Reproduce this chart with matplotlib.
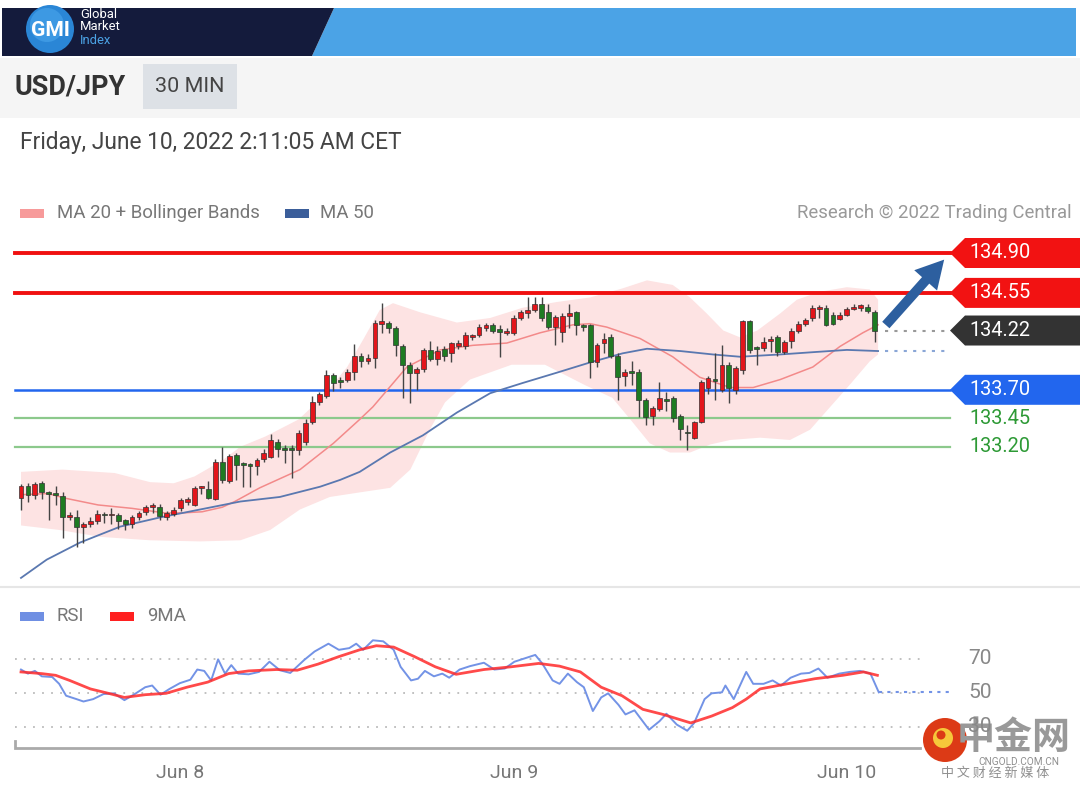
import numpy as np
import matplotlib
matplotlib.use('Agg')
import matplotlib.pyplot as plt
from matplotlib.patches import Polygon, Circle, Rectangle

plt.rcParams['font.family'] = ['Roboto', 'DejaVu Sans']

# ---- data (USD/JPY, 30 min bars) ----
opens = [132.75, 132.86, 132.78, 132.88, 132.80, 132.79, 132.77, 132.58, 132.58, 132.50,
         132.52, 132.55, 132.61, 132.60, 132.60, 132.56, 132.52, 132.58, 132.63, 132.67,
         132.67, 132.58, 132.61, 132.66, 132.72, 132.69, 132.84, 132.83, 132.74, 133.07,
         132.90, 133.13, 133.06, 133.05, 133.03, 133.09, 133.11, 133.24, 133.19, 133.19,
         133.17, 133.24, 133.42, 133.59, 133.65, 133.83, 133.78, 133.79, 133.86, 134.00,
         133.95, 133.98, 134.28, 134.29, 134.24, 134.08, 133.92, 133.85, 133.88, 134.05,
         133.97, 134.06, 134.02, 134.08, 134.08, 134.16, 134.18, 134.24, 134.27, 134.23,
         134.20, 134.20, 134.33, 134.37, 134.40, 134.45, 134.38, 134.25, 134.21, 134.35,
         134.38, 134.27, 134.27, 133.94, 134.11, 134.16, 134.00, 133.82, 133.86, 133.86,
         133.61, 133.47, 133.53, 133.62, 133.63, 133.47, 133.33, 133.28, 133.42, 133.72,
         133.79, 133.70, 133.92, 133.70, 133.87, 134.30, 134.07, 134.07, 134.13, 134.16,
         134.03, 134.13, 134.22, 134.28, 134.33, 134.41, 134.42, 134.36, 134.32, 134.36,
         134.41, 134.42, 134.43, 134.38]
highs = [132.87, 132.88, 132.89, 132.90, 132.81, 132.86, 132.80, 132.63, 132.65, 132.54,
         132.58, 132.65, 132.63, 132.66, 132.62, 132.57, 132.60, 132.64, 132.69, 132.71,
         132.70, 132.64, 132.67, 132.75, 132.76, 132.86, 132.86, 132.90, 133.09, 133.20,
         133.14, 133.15, 133.07, 133.06, 133.10, 133.18, 133.31, 133.27, 133.22, 133.22,
         133.35, 133.44, 133.65, 133.68, 133.87, 133.85, 133.81, 133.88, 134.10, 134.02,
         134.01, 134.31, 134.46, 134.30, 134.26, 134.10, 133.94, 133.90, 134.07, 134.13,
         134.08, 134.08, 134.12, 134.14, 134.21, 134.19, 134.28, 134.29, 134.29, 134.27,
         134.24, 134.36, 134.40, 134.51, 134.51, 134.51, 134.45, 134.36, 134.37, 134.45,
         134.39, 134.28, 134.28, 134.11, 134.20, 134.19, 134.02, 133.88, 133.95, 133.88,
         133.63, 133.56, 133.77, 133.68, 133.65, 133.49, 133.39, 133.43, 133.79, 133.82,
         134.02, 134.09, 133.94, 133.91, 134.31, 134.31, 134.08, 134.16, 134.17, 134.18,
         134.14, 134.24, 134.30, 134.33, 134.44, 134.44, 134.44, 134.38, 134.38, 134.43,
         134.45, 134.45, 134.45, 134.40]
lows = [132.65, 132.72, 132.74, 132.74, 132.56, 132.69, 132.40, 132.56, 132.32, 132.36,
        132.50, 132.52, 132.53, 132.52, 132.48, 132.47, 132.49, 132.56, 132.60, 132.62,
        132.56, 132.56, 132.59, 132.64, 132.69, 132.68, 132.79, 132.74, 132.73, 132.88,
        132.88, 132.91, 132.85, 132.85, 132.95, 133.07, 133.10, 133.11, 133.06, 132.93,
        133.13, 133.22, 133.40, 133.57, 133.63, 133.69, 133.72, 133.77, 133.79, 133.90,
        133.93, 133.89, 134.20, 134.20, 134.00, 133.63, 133.58, 133.70, 133.86, 133.95,
        133.92, 133.95, 133.94, 134.06, 134.06, 134.14, 134.16, 134.22, 134.20, 133.99,
        134.18, 134.18, 134.31, 134.33, 134.38, 134.30, 134.23, 134.09, 134.12, 134.24,
        134.18, 134.22, 133.80, 133.90, 134.02, 133.98, 133.61, 133.73, 133.74, 133.46,
        133.39, 133.39, 133.51, 133.51, 133.42, 133.26, 133.17, 133.27, 133.41, 133.66,
        133.61, 133.68, 133.58, 133.66, 133.84, 134.02, 133.92, 134.04, 134.03, 134.00,
        134.01, 134.07, 134.20, 134.26, 134.30, 134.33, 134.26, 134.27, 134.31, 134.35,
        134.40, 134.39, 134.37, 134.12]
closes = [132.86, 132.78, 132.87, 132.80, 132.79, 132.78, 132.58, 132.60, 132.50, 132.52,
          132.55, 132.61, 132.60, 132.61, 132.55, 132.52, 132.58, 132.62, 132.67, 132.69,
          132.59, 132.62, 132.65, 132.73, 132.74, 132.84, 132.85, 132.75, 133.07, 132.91,
          133.12, 133.04, 133.04, 133.03, 133.08, 133.15, 133.26, 133.18, 133.17, 133.17,
          133.32, 133.41, 133.59, 133.66, 133.83, 133.76, 133.77, 133.86, 134.00, 133.95,
          133.98, 134.29, 134.30, 134.24, 134.09, 133.92, 133.85, 133.88, 134.05, 133.97,
          134.04, 134.00, 134.11, 134.11, 134.18, 134.18, 134.25, 134.27, 134.22, 134.21,
          134.22, 134.33, 134.38, 134.40, 134.45, 134.33, 134.25, 134.34, 134.35, 134.37,
          134.27, 134.25, 133.94, 134.09, 134.15, 134.00, 133.81, 133.86, 133.85, 133.61,
          133.46, 133.54, 133.63, 133.60, 133.45, 133.36, 133.32, 133.42, 133.77, 133.80,
          133.78, 133.92, 133.72, 133.89, 134.30, 134.05, 134.06, 134.12, 134.15, 134.03,
          134.12, 134.22, 134.28, 134.31, 134.42, 134.42, 134.27, 134.28, 134.36, 134.41,
          134.43, 134.44, 134.39, 134.22]

# bollinger band edges and moving averages (bar index, price)
bb_up_x = [0, 6, 13.5, 18.6, 22, 25, 29, 31.6, 35.2, 40, 43.5, 47, 49.3, 51.7, 53.6, 57.5,
           62.8, 67.6, 72.3, 77.2, 82, 86.7, 90.2, 93.9, 96.4, 98.8, 101.2, 103.6, 106.1,
           109.4, 111.8, 115.1, 119, 122.3, 123.5]
bb_up = [132.98, 133.00, 132.97, 132.89, 132.88, 132.94, 133.08, 133.20, 133.29, 133.44,
         133.64, 133.90, 134.14, 134.40, 134.46, 134.38, 134.29, 134.33, 134.42, 134.47,
         134.51, 134.59, 134.66, 134.62, 134.51, 134.37, 134.22, 134.16, 134.22, 134.37,
         134.49, 134.56, 134.60, 134.58, 134.49]
bb_lo_x = [0, 5.6, 11.4, 18.6, 25.8, 31.6, 35.9, 40.2, 44.5, 48.8, 53.2, 56.1, 58.9, 61.1,
           64.7, 70.7, 75.5, 81.3, 85.2, 87.8, 90.6, 93.5, 96.4, 99.3, 102.2, 106.5, 110.8,
           113.7, 116.6, 119.5, 122.3, 123.5]
bb_lo = [132.51, 132.47, 132.41, 132.38, 132.37, 132.38, 132.47, 132.65, 132.76, 132.80,
         132.84, 133.00, 133.35, 133.59, 133.79, 133.92, 133.92, 133.74, 133.63, 133.44,
         133.23, 133.15, 133.15, 133.22, 133.26, 133.28, 133.26, 133.35, 133.55, 133.75,
         133.95, 134.01]
ma20_x = [0, 3.9, 6.3, 11.1, 16, 20.7, 23.2, 26.1, 29, 30.8, 34.4, 40.2, 45, 48.8, 50.7,
          55.6, 60.4, 65.1, 70, 74.8, 79.5, 82, 84.4, 89.2, 93.9, 97.8, 102.2, 105.5, 109.4,
          114.1, 118, 121.3, 123.5]
ma20 = [132.78, 132.79, 132.75, 132.69, 132.66, 132.62, 132.62, 132.63, 132.67, 132.72,
        132.84, 133.00, 133.23, 133.44, 133.55, 133.90, 134.05, 134.09, 134.11, 134.20,
        134.27, 134.28, 134.25, 134.15, 133.99, 133.81, 133.72, 133.72, 133.79, 133.90,
        134.08, 134.20, 134.27]
ma50_x = [0, 3.7, 8.5, 14.3, 20, 25.8, 31.6, 37.3, 43.1, 46, 48.8, 53.2, 57.9, 62.8, 67.6,
          72.3, 77.2, 82, 86.7, 90.2, 95, 99.7, 103.6, 109.4, 114.1, 119, 123.5]
ma50 = [132.05, 132.21, 132.36, 132.50, 132.58, 132.65, 132.72, 132.76, 132.85, 132.91,
        132.98, 133.15, 133.30, 133.50, 133.67, 133.76, 133.85, 133.94, 134.02, 134.06,
        134.04, 134.01, 133.99, 134.01, 134.03, 134.05, 134.04]

levels_red = [134.90, 134.55]
level_last = 134.22
level_blue = 133.70
levels_green = [133.45, 133.20]

rsi_x = [0, 1.0, 2.0, 3.0, 4.5, 5.5, 6.5, 8.0, 9.0, 10.4, 11.9, 13.4, 14.9, 16.4, 17.9, 18.9,
         20.1, 21.4, 22.9, 24.4, 25.4, 26.4, 27.4, 28.4, 29.4, 30.3, 31.3, 32.8, 34.3, 35.8,
         37.3, 38.8, 40.8, 42.3, 44.3, 45.8, 47.3, 48.3, 49.3, 50.7, 52.2, 53.7, 54.7, 56.2,
         57.2, 58.2, 59.5, 60.7, 61.7, 63.2, 64.7, 66.7, 68.2, 69.7, 71.1, 72.6, 74.1, 75.1,
         76.6, 77.6, 78.8, 80.1, 81.1, 82.4, 83.6, 84.6, 86.1, 87.1, 88.4, 90.5, 92.0, 93.0,
         94.5, 96.0, 97.0, 98.5, 99.5, 101.0, 101.5, 102.7, 104.5, 105.5, 107.0, 108.3,
         109.5, 110.9, 112.4, 113.6, 114.9, 116.2, 117.9, 119.4, 120.9, 122.4, 123.6]
rsi = [63.8, 61.4, 63.0, 59.8, 59.4, 55.4, 48.4, 46.4, 45.0, 46.4, 49.4, 49.8, 45.8, 49.4,
       53.4, 54.4, 49.0, 52.4, 55.8, 57.8, 63.8, 63.0, 57.4, 69.8, 61.4, 66.4, 61.4, 61.0,
       62.4, 68.4, 63.4, 61.8, 69.4, 74.4, 79.0, 75.4, 76.4, 79.0, 75.4, 81.0, 80.4, 75.4,
       65.4, 57.4, 58.4, 63.0, 59.8, 61.4, 59.0, 63.8, 65.8, 67.8, 63.8, 64.4, 68.4, 70.4,
       72.4, 67.4, 57.4, 55.4, 61.4, 56.4, 53.4, 39.4, 47.4, 49.8, 43.0, 37.4, 39.8, 28.4,
       33.4, 37.8, 31.4, 27.8, 32.4, 46.4, 49.8, 50.4, 54.4, 46.4, 62.4, 55.4, 55.4, 57.4,
       54.4, 59.0, 61.4, 61.8, 64.4, 59.0, 61.4, 62.4, 63.0, 61.4, 50.4]
rsi_ma_x = [0, 3.0, 5.0, 7.0, 10.0, 13.0, 14.9, 17.9, 20.9, 23.9, 26.9, 29.9, 32.8, 36.8,
            39.8, 42.8, 45.8, 48.8, 51.2, 53.7, 56.7, 59.7, 62.7, 66.7, 70.6, 74.6, 77.6,
            80.6, 83.6, 86.6, 89.6, 92.5, 96.5, 99.5, 102.5, 104.5, 106.5, 110.4, 114.4,
            118.4, 121.4, 123.4]
rsi_ma = [62.4, 61.4, 60.4, 57.4, 52.4, 49.4, 47.4, 49.0, 49.8, 53.4, 56.4, 61.4, 63.0,
          63.8, 63.4, 67.0, 71.4, 75.4, 77.8, 77.0, 71.4, 65.4, 61.0, 63.8, 65.4, 67.4,
          65.8, 62.4, 53.4, 48.4, 40.4, 37.4, 32.4, 36.4, 41.4, 46.4, 52.4, 55.4, 58.4,
          60.4, 62.4, 60.4]
rsi_levels = [70, 50, 30]

date_ticks = [23, 71, 119]
date_labels = ['Jun 8', 'Jun 9', 'Jun 10']

# ---- layout helpers (pixel based) ----
W, H = 1080, 791
X0, STEP = 21, 6.94


def xi(px):
    return (px - X0) / STEP


def fs(px):
    return px * 0.72


fig = plt.figure(figsize=(W / 100, H / 100), dpi=100)
bg = fig.add_axes([0, 0, 1, 1])
bg.set_xlim(0, W)
bg.set_ylim(H, 0)
bg.axis('off')

# header banner
bg.add_patch(Polygon([(312, 56), (334, 8), (1076, 8), (1076, 56)], closed=True, color='#4ba3e6', lw=0))
bg.add_patch(Polygon([(2, 8), (334, 8), (312, 56), (2, 56)], closed=True, color='#141b3c', lw=0))
bg.add_patch(Circle((50, 29), 24, color='#2a86d6', lw=0))
bg.add_patch(Circle((47, 25), 17, color='#4aa6ec', lw=0, alpha=0.6))
bg.text(50, 30, 'GMI', color='white', fontsize=fs(21), fontweight='bold', ha='center', va='center')
bg.text(80, 14, 'Global', color='white', fontsize=fs(13), va='center')
bg.text(80, 27, 'Market', color='white', fontsize=fs(13), va='center')
bg.text(80, 41, 'Index', color='#4ba3e6', fontsize=fs(13), va='center')

# title band
bg.add_patch(Rectangle((0, 58), W, 60, color='#f5f5f5', lw=0))
bg.add_patch(Rectangle((143, 64), 94, 45, color='#dde1e6', lw=0))
bg.text(15, 87, 'USD/JPY', color='#333333', fontsize=fs(27), fontweight='bold', va='center')
bg.text(190, 87, '30 MIN', color='#444444', fontsize=fs(21.5), ha='center', va='center')
bg.text(20, 143, 'Friday, June 10, 2022 2:11:05 AM CET', color='#444444', fontsize=fs(22.8), va='center')

# legend row
bg.add_patch(Rectangle((20, 209), 24, 9, color='#f79a9a', lw=0))
bg.text(57, 213, 'MA 20 + Bollinger Bands', color='#777777', fontsize=fs(18.7), va='center')
bg.add_patch(Rectangle((285, 209), 24, 9, color='#3b5e9a', lw=0))
bg.text(320, 213, 'MA 50', color='#777777', fontsize=fs(18.7), va='center')
bg.text(1072, 213, 'Research \u00a9 2022 Trading Central', color='#999999', fontsize=fs(18.7),
        ha='right', va='center')

bg.plot([0, W], [587, 587], color='#e6e6e6', lw=1.5)

# RSI legend
bg.add_patch(Rectangle((20, 612), 24, 9, color='#6f8fe3', lw=0))
bg.text(57, 616, 'RSI', color='#777777', fontsize=fs(18.7), va='center')
bg.add_patch(Rectangle((110, 612), 24, 9, color='#ff2020', lw=0))
bg.text(147, 616, '9MA', color='#777777', fontsize=fs(18.7), va='center')

# bottom axis line
bg.plot([15, 15, 920], [741, 748, 748], color='#aaaaaa', lw=2, solid_joinstyle='miter')

# ---- price panel ----
ax = fig.add_axes([0, (H - 585) / H, 1, 355 / H])
ax.set_facecolor('none')
ax.set_xlim(xi(0), xi(W))
ax.set_ylim(134.90 - (585 - 253) / 114, 134.90 + (253 - 230) / 114)
ax.axis('off')

band_x = bb_up_x + bb_lo_x[::-1]
band_y = bb_up + bb_lo[::-1]
ax.fill(band_x, band_y, color='#fde3e3', lw=0, zorder=1)

for lv in levels_red:
    ax.axhline(lv, xmin=15 / W, xmax=950 / W, color='#f01010', lw=2.8, zorder=2)
ax.axhline(level_blue, xmin=15 / W, xmax=950 / W, color='#2266ee', lw=1.8, zorder=2)
for lv in levels_green:
    ax.axhline(lv, xmin=15 / W, xmax=950 / W, color='#8cc98c', lw=1.6, zorder=2)

ax.plot(ma20_x, ma20, color='#f38a8a', lw=1.1, zorder=3)
ax.plot(ma50_x, ma50, color='#5a78b0', lw=1.3, zorder=3)
ax.hlines(ma50[-1], xi(885), xi(950), color='#8aa6d6', lw=1.5, linestyles=(0, (1.5, 3)), zorder=3)
ax.hlines(level_last, xi(885), xi(950), color='#999999', lw=1.5, linestyles=(0, (1.5, 3)), zorder=3)

idx = np.arange(len(closes))
o = np.array(opens)
c = np.array(closes)
up = c >= o
ax.vlines(idx, lows, highs, color='#444444', lw=1, zorder=4)
body_lo = np.minimum(o, c)
body_h = np.maximum(np.abs(c - o), 0.012)
ax.bar(idx, body_h, bottom=body_lo, width=0.7, color=np.where(up, '#e3151b', '#1e7b22'),
       edgecolor='#333333', lw=0.5, zorder=5)

ax.annotate('', xy=(xi(946), 134.86), xytext=(xi(884), 134.25),
            arrowprops=dict(arrowstyle='simple,head_width=1.1,head_length=1.0,tail_width=0.35',
                            mutation_scale=20, color='#2d5f9f', lw=0), zorder=6)

tr = ax.get_yaxis_transform()
hh = 15 / 114


def tag(p, txt, col):
    pts = [(950 / W, p), (965 / W, p + hh), (1.0, p + hh), (1.0, p - hh), (965 / W, p - hh)]
    ax.add_patch(Polygon(pts, closed=True, transform=tr, color=col, lw=0, zorder=6, clip_on=False))
    ax.text(969 / W, p, txt, transform=tr, color='white', fontsize=fs(20), va='center', zorder=7)


for lv in levels_red:
    tag(lv, f'{lv:.2f}', '#f21212')
tag(level_last, f'{level_last:.2f}', '#333333')
tag(level_blue, f'{level_blue:.2f}', '#2266ee')
for lv in levels_green:
    ax.text(969 / W, lv, f'{lv:.2f}', transform=tr, color='#2e9a36', fontsize=fs(20), va='center')

# ---- RSI panel ----
rax = fig.add_axes([0, (H - 748) / H, 1, 118 / H])
rax.set_facecolor('none')
rax.set_xlim(xi(0), xi(W))
rax.set_ylim(70 - 89 / 1.7, 70 + 29 / 1.7)
rax.axis('off')
rax.hlines(rsi_levels, xi(15), xi(925), color='#bbbbbb', lw=1.3, linestyles=(0, (1, 4)))
rtr = rax.get_yaxis_transform()
for lv in rsi_levels:
    rax.text(968 / W, lv, str(lv), transform=rtr, color='#888888', fontsize=fs(21), va='center')
rax.plot(rsi_x, rsi, color='#7393e6', lw=1.4, zorder=3)
rax.plot(rsi_ma_x, rsi_ma, color='#ff2a2a', lw=2, alpha=0.85, zorder=4)
rax.hlines(rsi[-1], rsi_x[-1], xi(952), color='#7393e6', lw=1.5, linestyles=(0, (1.5, 2.5)))
xtr = rax.get_xaxis_transform()
for t, lab in zip(date_ticks, date_labels):
    rax.text(t, -25 / 118, lab, transform=xtr, color='#777777', fontsize=fs(19.5), ha='center', va='center')

# ---- watermark ----
bg.add_patch(Circle((945, 740), 22, color='#dc3a16', lw=0, zorder=8))
bg.add_patch(Circle((943, 738), 10, color='#f6c83a', lw=0, zorder=9))
bg.add_patch(Circle((941, 735), 4.5, color='#dc3a16', lw=0, zorder=10))
bg.text(1014, 738, '中金网', family=['Noto Sans CJK SC', 'DejaVu Sans'], color='#999999',
        fontsize=fs(38), fontweight='bold', ha='center', va='center', zorder=9)
bg.text(1019, 762, 'CNGOLD.COM.CN', color='#8f8f8f', fontsize=fs(10), ha='center', va='center')
bg.text(995, 773, '中 文 财 经 新 媒 体', family=['Noto Sans CJK SC', 'DejaVu Sans'], color='#8f8f8f',
        fontsize=fs(13), ha='center', va='center')

fig.savefig('out.png', dpi=100)
